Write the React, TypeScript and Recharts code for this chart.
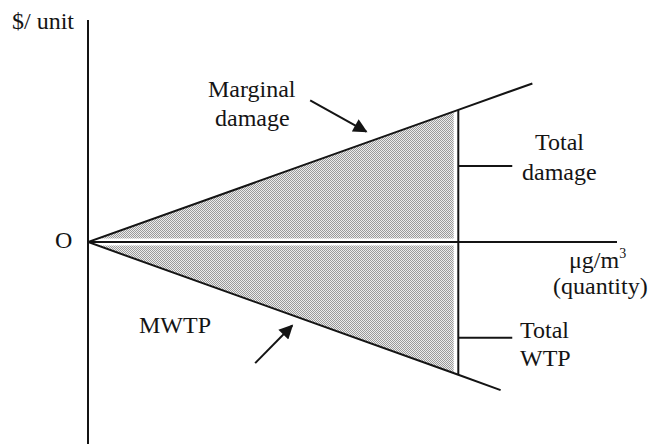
import React from "react"
import { ComposedChart, Line, Area, XAxis, YAxis, ReferenceLine } from "recharts"

// quantity (ug/m3) and $/unit values
const mdQuantity = [0, 70, 84]
const mdValue = [0, 25, 30]
const mwtpQuantity = [0, 70, 78]
const mwtpValue = [0, -25.1, -28]
const levelQuantity = 70
const damageLeaderValue = 14.4
const wtpLeaderValue = -18.1

const toPoints = (qs: number[], vs: number[]) => qs.map((q, i) => ({ q, v: vs[i] }))
const mdData = toPoints(mdQuantity, mdValue)
const mwtpData = toPoints(mwtpQuantity, mwtpValue)
const mdShade = mdData.slice(0, 2)
const mwtpShade = mwtpData.slice(0, 2)

const ink = "#141414"
const textStyle = { fontFamily: "Liberation Serif", fontSize: 24, fill: ink }

const arrowShape = (p: any) => (
  <line x1={p.x1} y1={p.y1} x2={p.x2} y2={p.y2} stroke={ink} strokeWidth={2} markerEnd="url(#arrowHead)" />
)

export default function App() {
  return (
    <div style={{ position: "absolute", left: 0, top: 0, width: 656, height: 444, background: "#fff" }}>
      <ComposedChart width={656} height={444} margin={{ top: 20, right: 39, left: 88, bottom: 0 }}>
        <XAxis dataKey="q" type="number" domain={[0, 100]} hide allowDataOverflow />
        <YAxis dataKey="v" type="number" domain={[-38.2, 42]} hide allowDataOverflow />
        <Area data={mdShade} dataKey="v" type="linear" stroke="none" fill="url(#dither)" fillOpacity={1} isAnimationActive={false} />
        <Area data={mwtpShade} dataKey="v" type="linear" stroke="none" fill="url(#dither)" fillOpacity={1} isAnimationActive={false} />
        <ReferenceLine y={0} stroke="#fff" strokeWidth={7} />
        <ReferenceLine stroke="#fff" strokeWidth={5} segment={[{ x: levelQuantity - 0.4, y: mdValue[1] }, { x: levelQuantity - 0.4, y: mwtpValue[1] }]} />
        <ReferenceLine y={0} stroke={ink} strokeWidth={2} />
        <ReferenceLine x={0} stroke={ink} strokeWidth={2} />
        <ReferenceLine stroke={ink} strokeWidth={2} segment={[{ x: levelQuantity, y: mdValue[1] }, { x: levelQuantity, y: mwtpValue[1] }]} />
        <ReferenceLine stroke={ink} strokeWidth={2} segment={[{ x: levelQuantity, y: damageLeaderValue }, { x: 80.2, y: damageLeaderValue }]} />
        <ReferenceLine stroke={ink} strokeWidth={2} segment={[{ x: levelQuantity, y: wtpLeaderValue }, { x: 80.2, y: wtpLeaderValue }]} />
        <ReferenceLine segment={[{ x: 42, y: 26.8 }, { x: 52.6, y: 20.9 }]} shape={arrowShape} />
        <ReferenceLine segment={[{ x: 31.6, y: -22.9 }, { x: 38.6, y: -15.8 }]} shape={arrowShape} />
        <Line data={mdData} dataKey="v" type="linear" stroke={ink} strokeWidth={2} dot={false} isAnimationActive={false} />
        <Line data={mwtpData} dataKey="v" type="linear" stroke={ink} strokeWidth={2} dot={false} isAnimationActive={false} />
      </ComposedChart>
      <svg width={656} height={444} style={{ position: "absolute", left: 0, top: 0, pointerEvents: "none" }}>
        <defs>
          <pattern id="dither" x={0} y={0} width={2} height={2} patternUnits="userSpaceOnUse">
            <rect width={2} height={2} fill="#ececec" />
            <rect width={1} height={1} fill="#9a9a9a" />
            <rect x={1} y={1} width={1} height={1} fill="#9a9a9a" />
          </pattern>
          <marker id="arrowHead" viewBox="0 0 10 10" refX={9} refY={5} markerWidth={16} markerHeight={14} orient="auto" markerUnits="userSpaceOnUse">
            <path d="M0,0 L10,5 L0,10 z" fill={ink} />
          </marker>
        </defs>
        <text style={textStyle} x={12} y={29}>$/ unit</text>
        <text style={textStyle} x={208} y={97}>Marginal</text>
        <text style={textStyle} x={215} y={126}>damage</text>
        <text style={textStyle} x={55} y={248}>O</text>
        <text style={textStyle} x={535} y={150}>Total</text>
        <text style={textStyle} x={522} y={180}>damage</text>
        <text style={textStyle} x={569} y={268}>μg/m<tspan style={{ fontSize: 14 }} dy={-10}>3</tspan></text>
        <text style={textStyle} x={553} y={294}>(quantity)</text>
        <text style={textStyle} x={520} y={338}>Total</text>
        <text style={textStyle} x={520} y={366}>WTP</text>
        <text style={textStyle} x={139} y={333}>MWTP</text>
      </svg>
    </div>
  )
}
